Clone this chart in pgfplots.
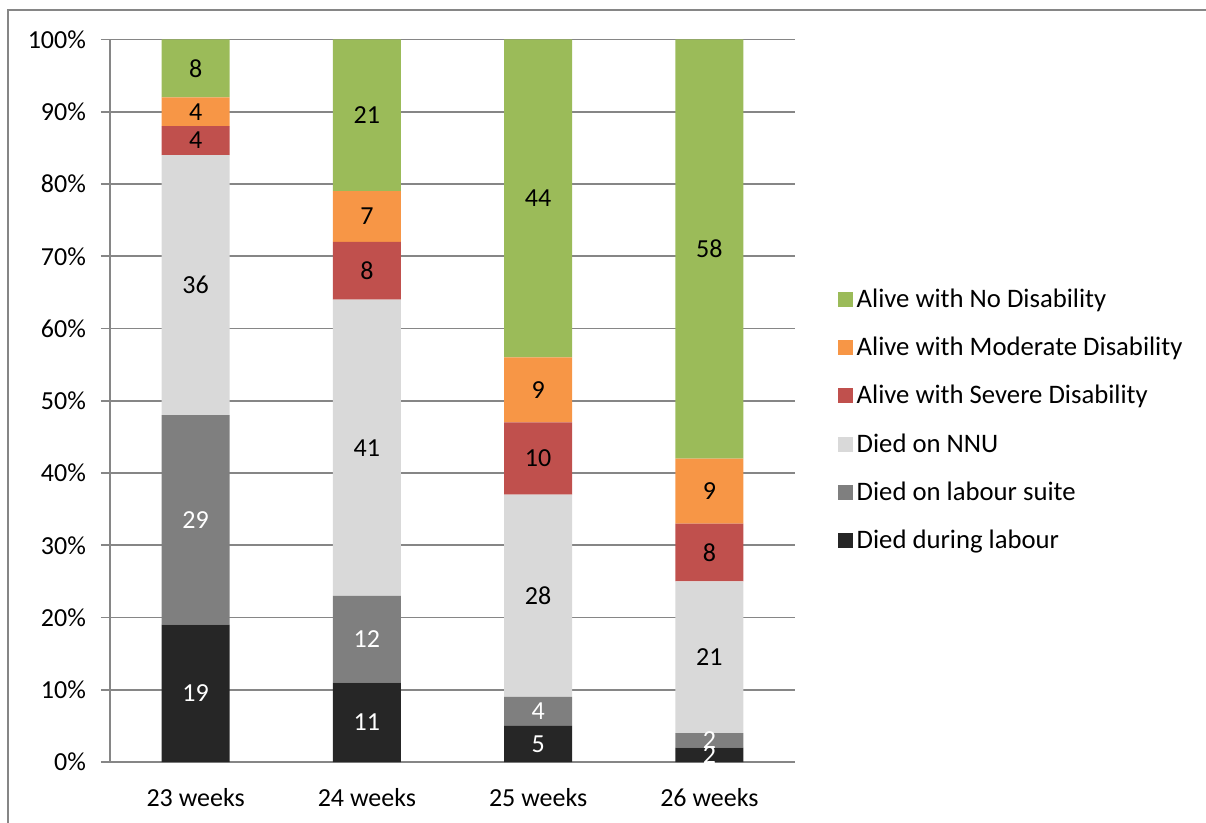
\documentclass[border=0pt]{standalone}
\usepackage{pgfplots}
\pgfplotsset{compat=1.18}
\usepackage{fontspec}
\setmainfont{Carlito}
\definecolor{cDL}{HTML}{262626}
\definecolor{cLS}{HTML}{7F7F7F}
\definecolor{cNNU}{HTML}{D9D9D9}
\definecolor{cSev}{HTML}{C0504D}
\definecolor{cMod}{HTML}{F79646}
\definecolor{cNo}{HTML}{9BBB59}
\definecolor{axgray}{HTML}{868686}
\begin{document}
\begin{tikzpicture}[font=\fontsize{13}{15}\selectfont]
\useasboundingbox (0,0) rectangle (603pt,-411.5pt);
\draw[axgray, line width=1pt] (4pt,-411.5pt) -- (4pt,-5pt) -- (603pt,-5pt);
\begin{axis}[
  at={(55pt,-381pt)}, anchor=south west,
  scale only axis, width=342.5pt, height=361.25pt,
  ybar stacked, bar width=34pt,
  xmin=-0.5, xmax=3.5, ymin=0, ymax=100,
  axis x line*=bottom, axis y line*=left,
  axis line style={axgray, line width=0.8pt, -},
  xtick={0,1,2,3},
  xticklabels={23 weeks,24 weeks,25 weeks,26 weeks},
  x tick style={draw=none},
  minor xtick={-0.5,0.5,1.5,2.5,3.5},
  minor x tick style={axgray, line width=0.8pt},
  minor tick length=4.5pt,
  ytick={0,10,...,100},
  yticklabel={\pgfmathprintnumber{\tick}\%},
  y tick style={axgray, line width=0.8pt},
  major tick length=4.5pt,
  tick align=outside,
  ymajorgrids, grid style={axgray, line width=0.8pt},
  /pgf/number format/assume math mode=true,
  yticklabel style={xshift=-4pt},
  xticklabel style={yshift=-5pt},
  visualization depends on={value \thisrow{v} \as \rawy},
  nodes near coords={\pgfmathprintnumber{\rawy}},
  nodes near coords align={center},
  every node near coord/.append style={text=black},
  reverse legend,
  legend cell align=left,
  legend style={draw=none, fill=none, at={(1.053,0.667)}, anchor=north west, row sep=9.4pt,
    font=\fontsize{13.35}{15}\selectfont,
    /tikz/every even column/.append style={column sep=0pt}},
  legend image code/.code={\fill[#1,draw=none] (0pt,-3.75pt) rectangle (7.5pt,3.75pt);},
]
\addplot[fill=cDL, draw=none, nodes near coords style={text=white}] table[x=x,y=v] {
x v
0 19
1 11
2 5
3 2
};
\addplot[fill=cLS, draw=none, nodes near coords style={text=white}] table[x=x,y=v] {
x v
0 29
1 12
2 4
3 2
};
\addplot[fill=cNNU, draw=none] table[x=x,y=v] {
x v
0 36
1 41
2 28
3 21
};
\addplot[fill=cSev, draw=none] table[x=x,y=v] {
x v
0 4
1 8
2 10
3 8
};
\addplot[fill=cMod, draw=none] table[x=x,y=v] {
x v
0 4
1 7
2 9
3 9
};
\addplot[fill=cNo, draw=none] table[x=x,y=v] {
x v
0 8
1 21
2 44
3 58
};
\legend{Died during labour,Died on labour suite,Died on NNU,Alive with Severe Disability,Alive with Moderate Disability,Alive with No Disability}
\end{axis}
\end{tikzpicture}
\end{document}
